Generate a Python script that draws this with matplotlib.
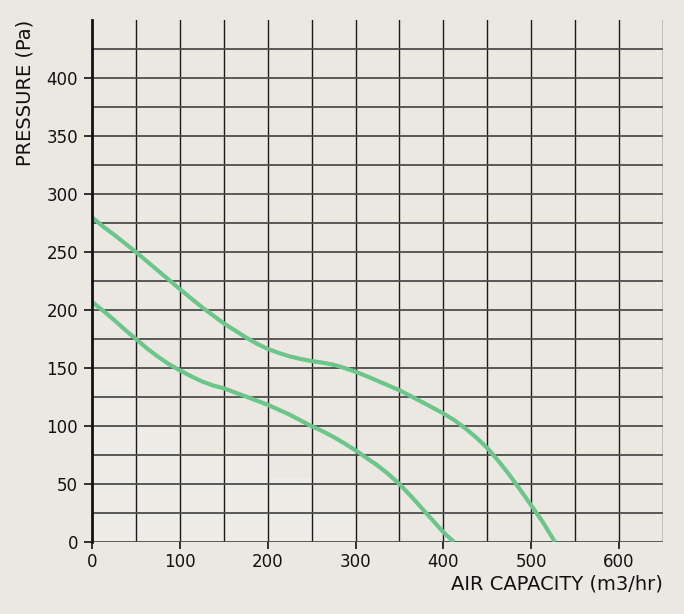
import numpy as np
import matplotlib as mpl
mpl.use('agg')
import matplotlib.pyplot as plt

## values
flow_high = [0, 12.5, 25, 50, 75, 100, 125, 150, 175, 187.5, 200, 212.5, 225, 237.5,
             250, 262.5, 275, 287.5, 300, 312.5, 325, 350, 375, 400, 412.5, 425,
             437.5, 450, 462.5, 475, 487.5, 500, 512.5, 527]
pres_high = [280, 272, 265, 250, 234, 218, 202.5, 188.5, 176.5, 171, 166.5, 163, 160,
             157.8, 156, 154.6, 152.8, 150, 146.8, 143, 139, 130.8, 121, 110.8, 105,
             98, 90, 81, 70, 58, 45, 31.5, 18, 0]
flow_low = [0, 12.5, 25, 37.5, 50, 62.5, 75, 87.5, 100, 112.5, 125, 137.5, 150, 175,
            200, 225, 250, 262.5, 275, 287.5, 300, 312.5, 325, 337.5, 350, 362.5,
            375, 387.5, 400, 412]
pres_low = [207, 199.5, 191.5, 183, 175, 167, 159.8, 153.3, 148, 143, 138.5, 135,
            132.5, 125.5, 118.3, 109.8, 99.8, 95.5, 90.5, 85, 79, 72.5, 66, 58.5, 50,
            40, 29.5, 19, 8.5, 0]

x_ticks = [0, 100, 200, 300, 400, 500, 600]
y_ticks = [0, 50, 100, 150, 200, 250, 300, 350, 400]

# faint lighter staircase in the lower left of the plot
patch_x = [0, 50, 100, 200, 250, 300]
patch_top = [150, 100, 75, 55, 25, 25]

bg = '#ebe8e2'
green = '#6cc58a'

plt.rcParams['font.family'] = ['DejaVu Sans']

fig = plt.figure(figsize=(6.84, 6.14), dpi=100, facecolor=bg)
ax = fig.add_axes([92 / 684, 72 / 614, 571 / 684, 522 / 614])
ax.set_facecolor(bg)

ax.set_xlim(0, 650)
ax.set_ylim(0, 450)

ax.fill_between(patch_x, 0, patch_top, step='post', color='#eeece7', lw=0, zorder=0)

# grid: vertical every 50, horizontal every 25
for xv in np.arange(50, 651, 50):
    ax.axvline(xv, color='#1a1a1a', lw=1.0, zorder=1)
for yv in np.arange(0, 450, 25):
    ax.axhline(yv, color='#4d4d4d', lw=1.3, zorder=1)

ax.plot(flow_high, pres_high, color=green, lw=3, solid_capstyle='butt',
        solid_joinstyle='round', zorder=3)
ax.plot(flow_low, pres_low, color=green, lw=3, solid_capstyle='butt',
        solid_joinstyle='round', zorder=3)

for s in ['top', 'right', 'bottom']:
    ax.spines[s].set_visible(False)
ax.spines['left'].set_linewidth(2)
ax.spines['left'].set_color('#111111')
ax.spines['left'].set_zorder(4)

ax.set_xticks(x_ticks)
ax.set_yticks(y_ticks)
ax.tick_params(axis='both', labelsize=12, colors='#111111', width=1.2)
ax.tick_params(axis='y', length=6, pad=4)
ax.tick_params(axis='x', length=5, pad=3)

ax.set_xlabel('AIR CAPACITY (m3/hr)', fontsize=14, color='#111111')
ax.xaxis.set_label_coords(1.0, -0.062)
ax.xaxis.label.set_horizontalalignment('right')
ax.set_ylabel('PRESSURE (Pa)', fontsize=14, color='#111111')
ax.yaxis.set_label_coords(-0.100, 1.0)
ax.yaxis.label.set_verticalalignment('bottom')
ax.yaxis.label.set_horizontalalignment('right')

fig.savefig('out.png', dpi=100, facecolor=bg)
